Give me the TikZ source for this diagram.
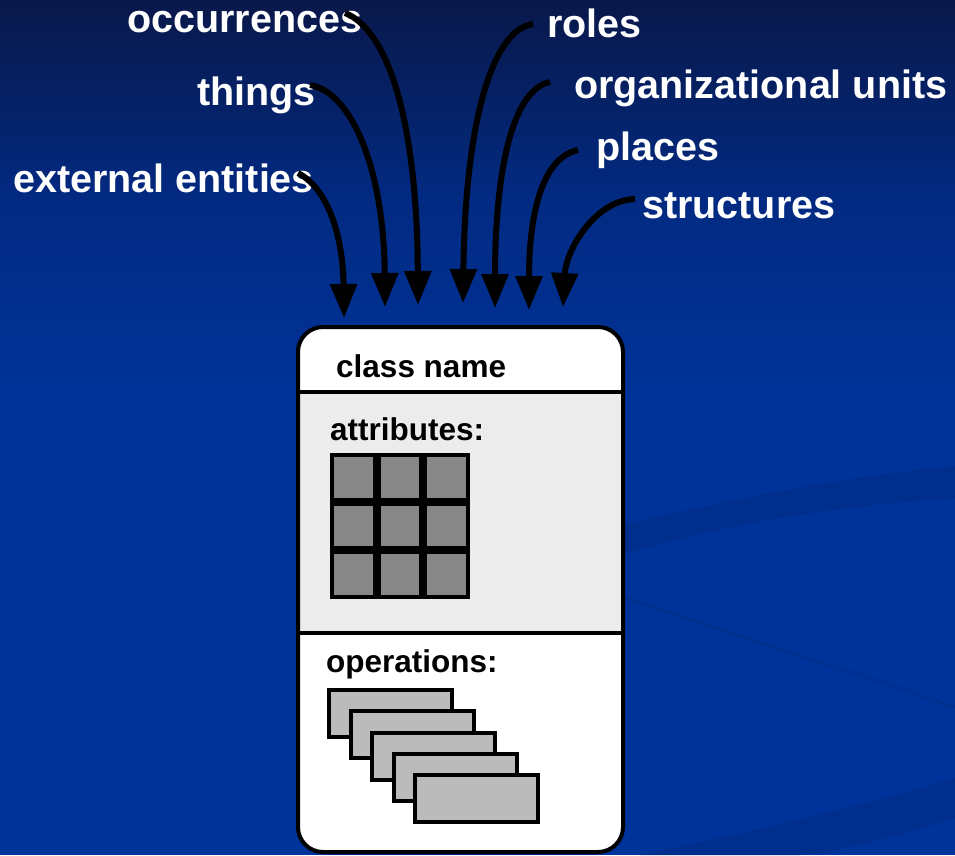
\documentclass[tikz,border=0pt]{standalone}
\usepackage{fontspec}
\setmainfont{Liberation Sans}
\usetikzlibrary{arrows.meta}
\definecolor{bgtop}{RGB}{9,24,74}
\definecolor{bgmid}{RGB}{2,42,130}
\definecolor{bgbot}{RGB}{0,51,153}
\definecolor{swoosh}{RGB}{0,46,140}
\definecolor{attrgray}{RGB}{236,236,236}
\definecolor{cellgray}{RGB}{135,135,135}
\definecolor{opgray}{RGB}{187,187,187}
\begin{document}
\begin{tikzpicture}[x=1pt,y=-1pt,
  lbl/.style={font=\fontsize{39.5}{40}\selectfont\bfseries, text=white, inner sep=0pt, anchor=base west},
  boxtxt/.style={font=\fontsize{31.5}{32}\selectfont\bfseries, text=black, inner sep=0pt, anchor=base west},
  feed/.style={line width=6pt, -{Triangle[length=34pt,width=26pt]}},
  cell/.style={fill=cellgray, draw=black, line width=4pt},
  opbox/.style={fill=opgray, draw=black, line width=4pt},
  divider/.style={draw=black, line width=3.5pt}]
% background
\useasboundingbox (0,0) rectangle (955,855);
\shade[top color=bgtop, bottom color=bgbot, middle color=bgmid] (0,0) rectangle (955,400);
\fill[bgbot] (0,399) rectangle (955,855);
% swooshes
\fill[swoosh] (600,530) .. controls (750,495) and (850,476) .. (955,466) -- (955,498) .. controls (850,505) and (720,522) .. (600,562) -- cycle;
\draw[swoosh, line width=2pt] (600,590) .. controls (750,640) and (850,670) .. (955,707);
\fill[swoosh] (640,855) .. controls (760,830) and (880,802) .. (955,778) -- (955,818) .. controls (900,835) and (850,850) .. (800,855) -- cycle;
% labels
\node[lbl] (occ) at (127,32) {occurrences};
\node[lbl] (thi) at (197,105) {things};
\node[lbl] (ext) at (13,192) {external entities};
\node[lbl] (rol) at (547,37) {roles};
\node[lbl] (org) at (574,98) {organizational units};
\node[lbl] (pla) at (596,160) {places};
\node[lbl] (str) at (642,218) {structures};
% arrow endpoints
\coordinate (s1) at (298,173); \coordinate (t1) at (344,318);
\coordinate (s2) at (310,85);  \coordinate (t2) at (385,307);
\coordinate (s3) at (345,13);  \coordinate (t3) at (418,305);
\coordinate (s4) at (533,24);  \coordinate (t4) at (463,303);
\coordinate (s5) at (550,82);  \coordinate (t5) at (495,308);
\coordinate (s6) at (578,150); \coordinate (t6) at (529,310);
\coordinate (s7) at (635,199); \coordinate (t7) at (563,307);
% arrows
\draw[feed] (s1) .. controls (330,190) and (343,240) .. (t1);
\draw[feed] (s2) .. controls (352,92) and (384,170) .. (t2);
\draw[feed] (s3) .. controls (388,30) and (417,120) .. (t3);
\draw[feed] (s4) .. controls (490,30) and (465,130) .. (t4);
\draw[feed] (s5) .. controls (510,90) and (495,180) .. (t5);
\draw[feed] (s6) .. controls (540,158) and (529,220) .. (t6);
\draw[feed] (s7) .. controls (595,200) and (566,250) .. (t7);
% class box
\begin{scope}
\clip[rounded corners=25pt] (298,327) rectangle (623,852);
\fill[white] (298,327) rectangle (623,392);
\fill[attrgray] (298,392) rectangle (623,633);
\fill[white] (298,633) rectangle (623,852);
\end{scope}
\draw[divider] (298,392) -- (623,392);
\draw[divider] (298,633) -- (623,633);
\draw[black, line width=4pt, rounded corners=25pt] (298,327) rectangle (623,852);
\node[boxtxt] (cname) at (336,377) {class name};
\node[boxtxt] (attr) at (330,440) {attributes:};
\node[boxtxt] (oper) at (326,672) {operations:};
% attribute cells
\foreach \i in {0,1,2}{
  \foreach \j in {0,1,2}{
    \draw[cell] ({332+46.7*\i},{455+48.7*\j}) rectangle ++(42.7,44.7);
  }
}
% operation stack
\foreach \k in {0,...,4}{
  \draw[opbox] ({329+21.5*\k},{690+21.25*\k}) rectangle ++(123,47);
}
\end{tikzpicture}
\end{document}
